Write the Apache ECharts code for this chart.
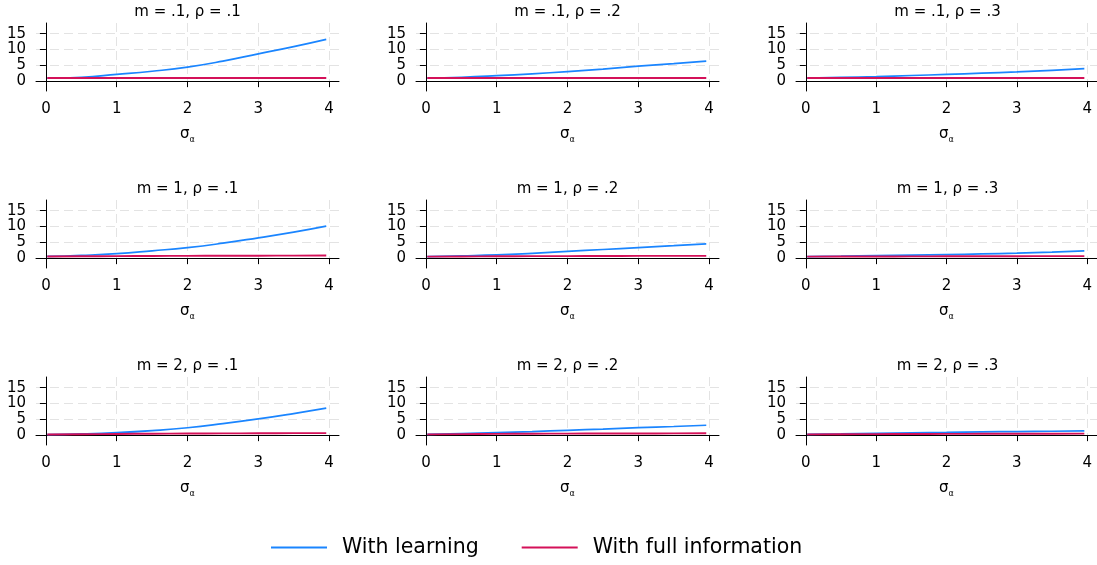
<!DOCTYPE html>
<html>
  <head>
    <meta charset="utf-8" />
    <title>Learning vs full information</title>
    <script src="https://cdn.jsdelivr.net/npm/echarts@6.0.0/dist/echarts.min.js"></script>
    <style>
      body { margin: 0; padding: 0; background: #fff; }
      #main { width: 1097px; height: 565px; }
    </style>
  </head>
  <body>
    <div id="main"></div>
    <script type="text/javascript">
      // sigma_a grid points
      var sigmaVals = [0.02, 0.5, 1, 1.5, 2, 2.5, 3, 3.5, 3.96];
      var mLabels = [".1", "1", "2"];
      var rhoLabels = [".1", ".2", ".3"];
      var xTicks = [0, 1, 2, 3, 4];
      var yTicks = [0, 5, 10, 15];

      // With learning, one row per m, one array per rho
      var learnM01 = [
        [0.9, 1.2, 2.1, 3.1, 4.4, 6.3, 8.6, 10.9, 13.2],
        [0.9, 1.2, 1.7, 2.3, 3.0, 3.8, 4.7, 5.5, 6.3],
        [0.95, 1.15, 1.4, 1.75, 2.1, 2.5, 2.9, 3.4, 3.9]
      ];
      var learnM1 = [
        [0.5, 0.85, 1.4, 2.3, 3.3, 4.7, 6.4, 8.2, 10.1],
        [0.45, 0.7, 1.0, 1.5, 2.1, 2.7, 3.3, 3.9, 4.5],
        [0.45, 0.6, 0.8, 0.95, 1.1, 1.3, 1.55, 1.9, 2.3]
      ];
      var learnM2 = [
        [0.15, 0.35, 0.75, 1.4, 2.3, 3.6, 5.1, 6.8, 8.5],
        [0.2, 0.45, 0.75, 1.1, 1.5, 1.9, 2.35, 2.7, 3.1],
        [0.2, 0.35, 0.55, 0.7, 0.85, 1.0, 1.1, 1.2, 1.3]
      ];

      // With full information
      var fullM01 = [
        [0.95, 0.95, 0.95, 0.95, 0.95, 0.95, 0.95, 0.95, 0.95],
        [0.95, 0.95, 0.95, 0.95, 0.95, 0.95, 0.95, 0.95, 0.95],
        [0.95, 0.95, 0.95, 0.95, 0.95, 0.95, 0.95, 0.95, 0.95]
      ];
      var fullM1 = [
        [0.5, 0.55, 0.6, 0.65, 0.7, 0.72, 0.75, 0.78, 0.8],
        [0.45, 0.5, 0.55, 0.6, 0.62, 0.65, 0.68, 0.7, 0.7],
        [0.45, 0.48, 0.5, 0.52, 0.55, 0.57, 0.58, 0.6, 0.6]
      ];
      var fullM2 = [
        [0.15, 0.25, 0.35, 0.42, 0.48, 0.52, 0.56, 0.6, 0.62],
        [0.2, 0.3, 0.38, 0.42, 0.45, 0.48, 0.5, 0.52, 0.55],
        [0.2, 0.25, 0.3, 0.33, 0.36, 0.39, 0.41, 0.43, 0.45]
      ];

      var learnAll = [learnM01, learnM1, learnM2];
      var fullAll = [fullM01, fullM1, fullM2];

      var FONT = "DejaVu Sans";
      var BLUE = "#1a85ff";
      var RED = "#d41159";
      var GRIDC = "#e3e3e3";
      var colLeft = [36, 416, 796];
      var rowTop = [23, 200, 377];
      var gridW = 303;
      var gridH = 68;

      var grids = [], xAxes = [], yAxes = [], series = [], graphics = [];

      function pairs(vals) {
        return sigmaVals.map(function (s, i) { return [s, vals[i]]; });
      }

      for (var r = 0; r < 3; r++) {
        for (var c = 0; c < 3; c++) {
          var idx = r * 3 + c;
          grids.push({ left: colLeft[c], top: rowTop[r], width: gridW, height: gridH });

          xAxes.push({
            gridIndex: idx,
            type: "value",
            min: -0.14,
            max: 4.14,
            name: "{s|σ}{sub|α}",
            nameLocation: "middle",
            nameGap: 33,
            nameTextStyle: {
              rich: {
                s: { fontFamily: FONT, fontSize: 15, color: "#000", lineHeight: 18, verticalAlign: "bottom" },
                sub: { fontFamily: FONT, fontSize: 8, color: "#000", lineHeight: 18, verticalAlign: "bottom", padding: [0, 0, -2, 0] }
              }
            },
            axisLine: { show: true, lineStyle: { color: "#000", width: 1 } },
            axisTick: { show: true, length: 6, customValues: xTicks, lineStyle: { color: "#000" } },
            axisLabel: { customValues: xTicks, margin: 11, fontFamily: FONT, fontSize: 15, color: "#000" },
            splitLine: { show: true, lineStyle: { color: GRIDC, type: [9, 5], width: 1 } }
          });

          yAxes.push({
            gridIndex: idx,
            type: "value",
            min: -3.15,
            max: 18.37,
            axisLine: { show: true, lineStyle: { color: "#000", width: 1 } },
            axisTick: { show: true, length: 6, customValues: yTicks, lineStyle: { color: "#000" } },
            axisLabel: { customValues: yTicks, margin: 10, fontFamily: FONT, fontSize: 15, color: "#000" },
            splitLine: { show: true, lineStyle: { color: GRIDC, type: [9, 5], width: 1 } }
          });

          series.push({
            name: "With learning",
            type: "line",
            xAxisIndex: idx,
            yAxisIndex: idx,
            data: pairs(learnAll[r][c]),
            smooth: true,
            showSymbol: false,
            symbol: "none",
            lineStyle: { color: BLUE, width: 1.7 },
            itemStyle: { color: BLUE }
          });
          series.push({
            name: "With full information",
            type: "line",
            xAxisIndex: idx,
            yAxisIndex: idx,
            data: pairs(fullAll[r][c]),
            smooth: true,
            showSymbol: false,
            symbol: "none",
            lineStyle: { color: RED, width: 1.9 },
            itemStyle: { color: RED }
          });

          graphics.push({
            type: "text",
            x: colLeft[c] + gridW / 2,
            y: rowTop[r] - 11,
            style: {
              text: "m = " + mLabels[r] + ", ρ = " + rhoLabels[c],
              fontFamily: FONT,
              fontSize: 15,
              fill: "#000",
              align: "center",
              verticalAlign: "middle"
            }
          });
        }
      }

      var myChart = echarts.init(document.getElementById("main"), null, { renderer: "canvas" });
      myChart.setOption({
        animation: false,
        backgroundColor: "#fff",
        grid: grids,
        xAxis: xAxes,
        yAxis: yAxes,
        series: series,
        graphic: graphics,
        legend: {
          data: ["With learning", "With full information"],
          left: 271,
          top: 537,
          padding: 0,
          icon: "rect",
          itemWidth: 56,
          itemHeight: 2,
          itemGap: 43,
          textStyle: { fontFamily: FONT, fontSize: 20.5, color: "#000", padding: [0, 0, 0, 10] }
        }
      });
    </script>
  </body>
</html>
